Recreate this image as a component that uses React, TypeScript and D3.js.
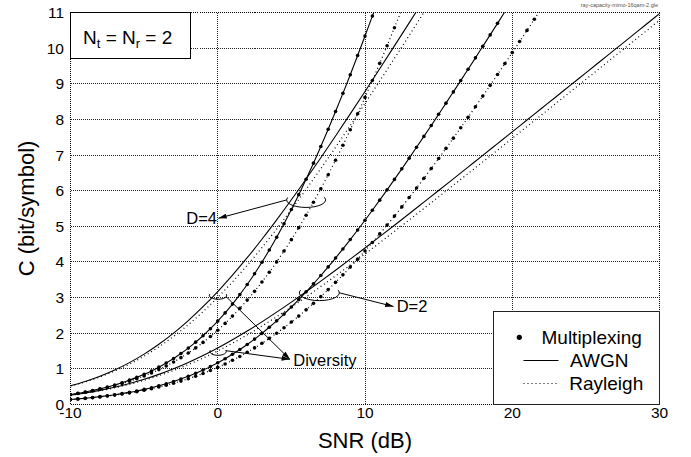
import React from 'react';
import * as d3 from 'd3';

// SNR grids (dB)
const snrFine = [-10, -9.5, -9, -8.5, -8, -7.5, -7, -6.5, -6, -5.5, -5, -4.5, -4, -3.5, -3, -2.5, -2, -1.5, -1, -0.5, 0, 0.5, 1, 1.5, 2, 2.5, 3, 3.5, 4, 4.5, 5, 5.5, 6, 6.5, 7, 7.5, 8, 8.5, 9, 9.5, 10, 10.5, 11, 11.5, 12, 12.5, 13, 13.5, 14, 14.5, 15, 15.5, 16, 16.5, 17, 17.5, 18, 18.5, 19, 19.5, 20, 20.5, 21, 21.5, 22];
const snrCoarse = [-10, -9, -8, -7, -6, -5, -4, -3, -2, -1, 0, 1, 2, 3, 4, 5, 6, 7, 8, 9, 10, 11, 12, 13, 14, 15, 16, 17, 18, 19, 20, 21, 22, 23, 24, 25, 26, 27, 28, 29, 30];

// Multiplexing (dots), on snrFine
const muxAwgnD2 = [0.141, 0.157, 0.176, 0.197, 0.220, 0.246, 0.274, 0.306, 0.341, 0.380, 0.424, 0.471, 0.524, 0.582, 0.645, 0.715, 0.791, 0.874, 0.965, 1.063, 1.170, 1.285, 1.409, 1.542, 1.684, 1.835, 1.996, 2.168, 2.348, 2.537, 2.736, 2.944, 3.161, 3.386, 3.620, 3.861, 4.110, 4.365, 4.628, 4.896, 5.170, 5.450, 5.734, 6.024, 6.316, 6.612, 6.913, 7.217, 7.523, 7.831, 8.143, 8.456, 8.772, 9.089, 9.408, 9.728, 10.050, 10.372, 10.695, 11.020];
const muxRayD2 = [0.138, 0.154, 0.171, 0.191, 0.213, 0.237, 0.264, 0.293, 0.325, 0.361, 0.400, 0.443, 0.490, 0.541, 0.597, 0.657, 0.723, 0.794, 0.871, 0.954, 1.043, 1.138, 1.240, 1.349, 1.465, 1.588, 1.718, 1.855, 2.001, 2.153, 2.313, 2.481, 2.656, 2.838, 3.027, 3.224, 3.428, 3.638, 3.855, 4.079, 4.309, 4.545, 4.787, 5.034, 5.287, 5.545, 5.808, 6.075, 6.347, 6.623, 6.903, 7.187, 7.474, 7.765, 8.058, 8.355, 8.654, 8.956, 9.260, 9.567, 9.875, 10.186, 10.498, 10.812, 11.127];
const muxAwgnD4 = [0.282, 0.315, 0.352, 0.394, 0.440, 0.492, 0.549, 0.612, 0.683, 0.761, 0.847, 0.942, 1.048, 1.163, 1.290, 1.430, 1.582, 1.749, 1.930, 2.127, 2.340, 2.570, 2.818, 3.084, 3.368, 3.671, 3.993, 4.335, 4.695, 5.074, 5.472, 5.888, 6.322, 6.772, 7.240, 7.722, 8.220, 8.731, 9.255, 9.792, 10.340, 10.899, 11.468];
const muxRayD4 = [0.275, 0.307, 0.343, 0.382, 0.426, 0.474, 0.527, 0.586, 0.651, 0.722, 0.800, 0.886, 0.979, 1.082, 1.193, 1.314, 1.446, 1.588, 1.742, 1.907, 2.085, 2.276, 2.480, 2.698, 2.929, 3.175, 3.436, 3.711, 4.001, 4.306, 4.626, 4.961, 5.311, 5.676, 6.055, 6.448, 6.855, 7.276, 7.711, 8.158, 8.618, 9.090, 9.573, 10.068, 10.574, 11.089];

// Diversity (plain lines), on snrCoarse
const divAwgnD2 = [0.263, 0.324, 0.397, 0.484, 0.587, 0.707, 0.845, 1.002, 1.178, 1.372, 1.585, 1.815, 2.060, 2.319, 2.591, 2.873, 3.164, 3.463, 3.768, 4.078, 4.392, 4.710, 5.031, 5.354, 5.680, 6.006, 6.333, 6.662, 6.991, 7.321, 7.651, 7.982, 8.313, 8.644, 8.976, 9.307, 9.639, 9.971, 10.303, 10.635, 10.967];
const divRayD2 = [0.258, 0.317, 0.386, 0.469, 0.566, 0.679, 0.809, 0.956, 1.120, 1.302, 1.503, 1.720, 1.953, 2.201, 2.462, 2.735, 3.018, 3.310, 3.609, 3.914, 4.224, 4.539, 4.857, 5.178, 5.502, 5.827, 6.153, 6.480, 6.809, 7.138, 7.468, 7.799, 8.129, 8.460, 8.792, 9.123, 9.455, 9.786, 10.118, 10.450, 10.782];
const divAwgnD4 = [0.526, 0.648, 0.795, 0.969, 1.175, 1.414, 1.690, 2.003, 2.355, 2.744, 3.170, 3.630, 4.120, 4.638, 5.182, 5.745, 6.328, 6.925, 7.535, 8.156, 8.785, 9.421, 10.063, 10.708, 11.359];
const divRayD4 = [0.516, 0.634, 0.772, 0.938, 1.132, 1.358, 1.618, 1.912, 2.240, 2.604, 3.006, 3.440, 3.906, 4.402, 4.924, 5.470, 6.036, 6.620, 7.218, 7.828, 8.448, 9.078, 9.714, 10.356, 11.004];

const xTicks = [-10, 0, 10, 20, 30];
const yTicks = [0, 1, 2, 3, 4, 5, 6, 7, 8, 9, 10, 11];
const legendLabels = ['Multiplexing', 'AWGN', 'Rayleigh'];

const W = 691;
const H = 457;
const FONT = '"Liberation Sans", Arial, Helvetica, sans-serif';

const x = d3.scaleLinear().domain([-10, 30]).range([70.5, 659.5]);
const y = d3.scaleLinear().domain([0, 11]).range([404.5, 12.5]);
const snap = (v: number) => Math.floor(v) + 0.5;

type Pt = [number, number];
const zip = (xs: number[], vs: number[]): Pt[] => vs.map((v, i) => [xs[i], v] as Pt);

const lineGen = d3
  .line<Pt>()
  .x((d) => x(d[0]))
  .y((d) => y(d[1]))
  .curve(d3.curveMonotoneX);

const DOTTED = '1 3';
const GRID = '1 1';

const series = [
  { pts: zip(snrCoarse, divAwgnD4), dash: null, dots: false },
  { pts: zip(snrCoarse, divRayD4), dash: DOTTED, dots: false },
  { pts: zip(snrCoarse, divAwgnD2), dash: null, dots: false },
  { pts: zip(snrCoarse, divRayD2), dash: DOTTED, dots: false },
  { pts: zip(snrFine, muxAwgnD4), dash: null, dots: true },
  { pts: zip(snrFine, muxRayD4), dash: DOTTED, dots: true },
  { pts: zip(snrFine, muxAwgnD2), dash: null, dots: true },
  { pts: zip(snrFine, muxRayD2), dash: DOTTED, dots: true },
];

// open ellipse (bracket) drawn from -20deg through bottom to 200deg
function bracket(cx: number, cy: number, rx: number, ry: number) {
  const a0 = (-20 * Math.PI) / 180;
  const a1 = (200 * Math.PI) / 180;
  const x0 = cx + rx * Math.cos(a0);
  const y0 = cy + ry * Math.sin(a0);
  const x1 = cx + rx * Math.cos(a1);
  const y1 = cy + ry * Math.sin(a1);
  return `M${x0},${y0} A${rx},${ry} 0 1 1 ${x1},${y1}`;
}

export default function App() {
  const [x0, x1] = x.range();
  const [yb, yt] = y.range();

  // annotation anchors (data units)
  const d4c = { cx: x(6.0), cy: y(5.74), rx: 19.5, ry: 7.5 };
  const d2c = { cx: x(6.9), cy: y(3.134), rx: 20, ry: 7.8 };
  const divUp = { cx: x(0.02), cy: y(3.06), rx: 8.7, ry: 3.8 };
  const divLo = { cx: x(0.02), cy: y(1.487), rx: 8.2, ry: 3.8 };

  return (
    <svg
      width={W}
      height={H}
      viewBox={`0 0 ${W} ${H}`}
      style={{ position: 'absolute', left: 0, top: 0, background: '#fff' }}
      fontFamily={FONT}
    >
      <defs>
        <clipPath id="plotClip">
          <rect x={x0} y={yt} width={x1 - x0} height={yb - yt} />
        </clipPath>
        <marker
          id="arrow"
          viewBox="0 0 10 6"
          refX="10"
          refY="3"
          markerWidth="9"
          markerHeight="5"
          markerUnits="userSpaceOnUse"
          orient="auto"
        >
          <path d="M0,0 L10,3 L0,6 Z" fill="#000" />
        </marker>
      </defs>
      <rect x={0} y={0} width={W} height={H} fill="#fff" />

      {/* grid */}
      <g stroke="#222" strokeWidth={1} strokeDasharray={GRID} fill="none" shapeRendering="crispEdges">
        {xTicks.slice(1, -1).map((t) => (
          <line key={'gx' + t} x1={snap(x(t))} x2={snap(x(t))} y1={yt} y2={yb} />
        ))}
        {yTicks.slice(1, -1).map((t) => (
          <line key={'gy' + t} x1={x0} x2={x1} y1={snap(y(t))} y2={snap(y(t))} />
        ))}
      </g>

      {/* curves */}
      <g clipPath="url(#plotClip)">
        {series.map((s, i) => (
          <g key={i}>
            <path
              d={lineGen(s.pts) || ''}
              fill="none"
              stroke="#000"
              strokeWidth={s.dash ? 1.2 : 1.1}
              strokeDasharray={s.dash || undefined}
            />
            {s.dots &&
              s.pts
                .filter((p) => p[1] <= 11)
                .map((p, j) => <circle key={j} cx={x(p[0])} cy={y(p[1])} r={1.8} fill="#000" />)}
          </g>
        ))}
      </g>

      {/* frame */}
      <g stroke="#000" strokeWidth={1} strokeDasharray={GRID} shapeRendering="crispEdges">
        <line x1={x0} x2={x1} y1={yt} y2={yt} />
        <line x1={x0} x2={x1} y1={yb} y2={yb} />
        <line x1={x0} x2={x0} y1={yt} y2={yb} />
        <line x1={x1} x2={x1} y1={yt} y2={yb} />
      </g>

      {/* tick labels */}
      <g fontSize={15.5} fill="#000">
        {xTicks.map((t) => (
          <text key={'tx' + t} x={x(t)} y={417.5} textAnchor="middle">
            {t}
          </text>
        ))}
        {yTicks.map((t) => (
          <text key={'ty' + t} x={64} y={y(t) + 5.5} textAnchor="end">
            {t}
          </text>
        ))}
      </g>

      {/* axis titles */}
      <text x={(x0 + x1) / 2} y={448} textAnchor="middle" fontSize={22}>
        SNR (dB)
      </text>
      <text transform={`translate(34,${(yt + yb) / 2}) rotate(-90)`} textAnchor="middle" fontSize={22}>
        C (bit/symbol)
      </text>

      {/* Nt = Nr box */}
      <rect x={x0} y={yt} width={120} height={46} fill="#fff" stroke="#000" strokeWidth={1} />
      <text x={83} y={43.5} fontSize={19}>
        N<tspan fontSize={13} dy={4}>t</tspan>
        <tspan dy={-4}> = N</tspan>
        <tspan fontSize={13} dy={4}>r</tspan>
        <tspan dy={-4}> = 2</tspan>
      </text>

      {/* annotations */}
      <g fill="none" stroke="#000" strokeWidth={1}>
        <path d={bracket(d4c.cx, d4c.cy, d4c.rx, d4c.ry)} />
        <path d={bracket(d2c.cx, d2c.cy, d2c.rx, d2c.ry)} />
        <path d={bracket(divUp.cx, divUp.cy, divUp.rx, divUp.ry)} />
        <path d={bracket(divLo.cx, divLo.cy, divLo.rx, divLo.ry)} />
        <line x1={d4c.cx - d4c.rx} y1={d4c.cy} x2={x(0.04)} y2={y(5.225)} markerEnd="url(#arrow)" />
        <line x1={d2c.cx + d2c.rx} y1={d2c.cy} x2={x(11.94)} y2={y(2.75)} markerEnd="url(#arrow)" />
        <line x1={x(0.56)} y1={y(3.03)} x2={x(4.9)} y2={y(1.268)} markerEnd="url(#arrow)" />
        <line x1={x(0.56)} y1={y(1.51)} x2={x(4.9)} y2={y(1.268)} markerEnd="url(#arrow)" />
      </g>
      <g fontSize={16.5} fill="#000">
        <text x={x(-0.05)} y={y(5.065)} textAnchor="end">
          D=4
        </text>
        <text x={x(12.15)} y={y(2.6)}>D=2</text>
        <text x={x(5.13)} y={y(1.08)}>Diversity</text>
      </g>

      {/* legend */}
      <rect x={493.5} y={311.5} width={166} height={93} fill="#fff" stroke="#222" strokeWidth={1} />
      <circle cx={519.3} cy={337.3} r={2.6} fill="#000" />
      <line x1={523.5} x2={558.5} y1={360.5} y2={360.5} stroke="#000" strokeWidth={1.1} />
      <line x1={523.5} x2={558.5} y1={383.5} y2={383.5} stroke="#000" strokeWidth={1.2} strokeDasharray={DOTTED} />
      <g fontSize={19} fill="#000">
        <text x={541.5} y={344.3}>{legendLabels[0]}</text>
        <text x={570} y={366.7}>{legendLabels[1]}</text>
        <text x={569.3} y={390}>{legendLabels[2]}</text>
      </g>

      {/* source file tag */}
      <text x={658} y={7} textAnchor="end" fontSize={5.5} fill="#555">
        ray-capacity-mimo-16qam-2.gle
      </text>
    </svg>
  );
}
